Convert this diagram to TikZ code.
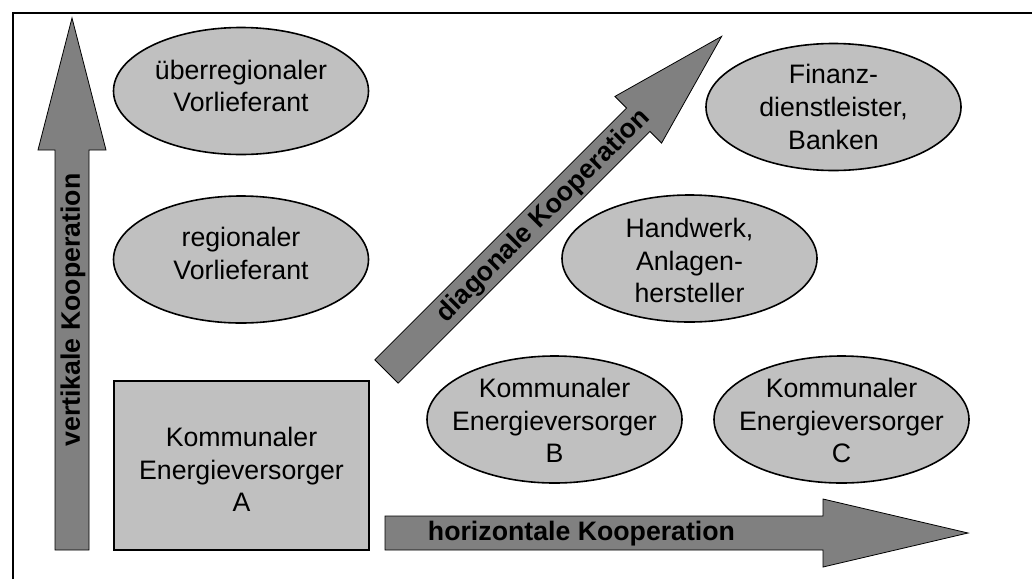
\documentclass[tikz,border=0pt]{standalone}
\usepackage{fontspec}
\setmainfont{Liberation Sans}
\usetikzlibrary{shapes.geometric}
\definecolor{lightfill}{RGB}{192,192,192}
\definecolor{arrowfill}{RGB}{128,128,128}
\begin{document}
\begin{tikzpicture}[x=1pt,y=-1pt,
  ell/.style={ellipse, draw=black, line width=1.6pt, fill=lightfill, minimum width=255pt, minimum height=127pt, inner sep=0pt},
  boxA/.style={rectangle, draw=black, line width=1.6pt, fill=lightfill, minimum width=255pt, minimum height=169pt, inner sep=0pt},
  txt/.style={align=center, font=\fontsize{26.7}{32.8}\selectfont, inner sep=0pt},
  btxt/.style={font=\fontsize{26.7}{32}\selectfont\bfseries, inner sep=0pt},
  bigarrow/.style={draw=black, line width=0.8pt, fill=arrowfill, line join=miter},
  frameline/.style={line width=1.6pt}]
\useasboundingbox (0,0) rectangle (1032,579);
\draw[frameline] (13,579) -- (13,13) -- (1032,13);
% vertical arrow
\draw[bigarrow] (55,550) -- (55,150) -- (38,150) -- (72,18) -- (106,150) -- (89,150) -- (89,550) -- cycle;
\node[btxt, rotate=90] (vtext) at (73,310) {vertikale Kooperation};
% horizontal arrow
\draw[bigarrow] (385,516) -- (823,516) -- (823,499) -- (968,533) -- (823,567) -- (823,550) -- (385,550) -- cycle;
\node[btxt] (htext) at (581.5,534) {horizontale Kooperation};
% diagonal arrow
\begin{scope}[shift={(386.5,371.5)}, rotate=45]
\draw[bigarrow] (0,-16.5) -- (356,-16.5) -- (356,-33) -- (474,0) -- (356,33) -- (356,16.5) -- (0,16.5) -- cycle;
\end{scope}
\node[btxt, rotate=45] (dtext) at (543.5,216) {diagonale Kooperation};
% ellipses
\node[ell] (ueber) at (241,91) {};
\node[txt] (uebert) at ([yshift=5pt]ueber.center) {überregionaler\\Vorlieferant};
\node[ell] (reg) at (241,259.5) {};
\node[txt] (regt) at ([yshift=6pt]reg.center) {regionaler\\Vorlieferant};
\node[ell] (fin) at (833.5,107) {};
\node[txt] (fint) at (fin) {Finanz-\\dienstleister,\\Banken};
\node[ell] (hand) at (689.5,258.5) {};
\node[txt] (handt) at ([yshift=-2pt]hand.center) {Handwerk,\\Anlagen-\\hersteller};
\node[ell] (evb) at (554.5,419.5) {};
\node[txt] (evbt) at ([yshift=-1pt]evb.center) {Kommunaler\\Energieversorger\\B};
\node[ell] (evc) at (841.5,419.5) {};
\node[txt] (evct) at ([yshift=-1pt]evc.center) {Kommunaler\\Energieversorger\\C};
\node[boxA] (eva) at (241.5,465.5) {};
\node[txt] (evat) at ([yshift=-4pt]eva.center) {Kommunaler\\Energieversorger\\A};
\end{tikzpicture}
\end{document}
